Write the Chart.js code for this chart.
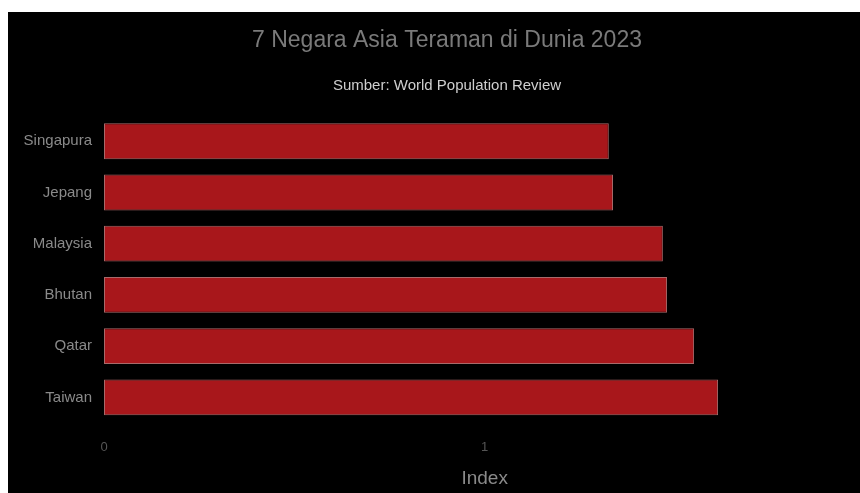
<!DOCTYPE html>
<html>
<head>
<meta charset="utf-8">
<script src="https://cdn.jsdelivr.net/npm/chart.js@4"></script>
<style>
    html, body { margin: 0; padding: 0; background: #fff; overflow: hidden; width: 860px; height: 493px; }
    #box { position: absolute; left: 8px; top: 12px; width: 878px; height: 481px; background: #000; }
</style>
</head>
<body>
<div id="box"><canvas id="graph"></canvas></div>
<script>
var negara = ['Singapura', 'Jepang', 'Malaysia', 'Bhutan', 'Qatar', 'Taiwan'];
var nilaiIndex = [1.326, 1.337, 1.468, 1.479, 1.550, 1.613];
var ticksX = [0, 1, 2];

var data = {
    labels: negara,
    datasets: [{
        label: 'Index',
        data: nilaiIndex,
        backgroundColor: '#a8171b',
        borderColor: '#a86a6a',
        borderWidth: 1,
        borderSkipped: false,
        barPercentage: 0.7,
        categoryPercentage: 1
    }]
};
const ctx = document.getElementById('graph');
var option = {
    indexAxis: 'y',
    responsive: true,
    maintainAspectRatio: false,
    animation: false,
    layout: { padding: 0 },
    scales: {
        x: {
            min: 0,
            max: 2,
            afterBuildTicks: function (scale) {
                scale.ticks = ticksX.map(function (v) { return { value: v }; });
            },
            grid: { display: false, drawTicks: false },
            border: { display: false },
            ticks: { color: '#555', font: { family: 'Liberation Sans', size: 13 }, padding: 17 },
            title: { display: true, text: 'Index', color: '#8a8a8a', font: { family: 'Liberation Sans', size: 19 }, padding: { top: 8, bottom: 3 } },
            afterFit: function (scale) { scale.height = 70; }
        },
        y: {
            grid: { display: false, drawTicks: false },
            border: { display: false },
            ticks: { color: '#8a8a8a', font: { family: 'Liberation Sans', size: 15 }, padding: 12 },
            afterFit: function (scale) { scale.width = 96; }
        }
    },
    plugins: {
        legend: { display: false },
        tooltip: { enabled: false },
        title: {
            display: true,
            text: '7 Negara Asia Teraman di Dunia 2023',
            color: '#7a7a7a',
            font: { family: 'Liberation Sans', size: 23, weight: 'normal' },
            padding: { top: 15, bottom: 22 }
        },
        subtitle: {
            display: true,
            text: 'Sumber: World Population Review',
            color: '#cfcfcf',
            font: { family: 'Liberation Sans', size: 15 },
            padding: { top: 0, bottom: 21 }
        }
    }
};
var graphique = new Chart(ctx, { type: 'bar', data: data, options: option });
</script>
</body>
</html>
